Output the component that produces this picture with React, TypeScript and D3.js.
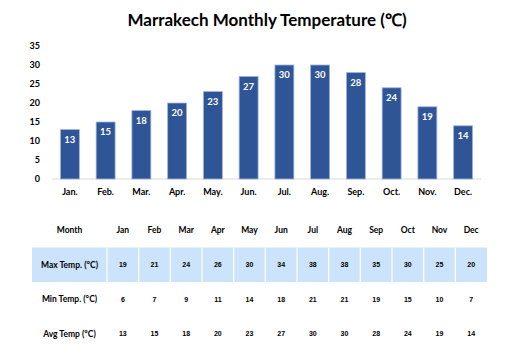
import React from 'react'
import * as d3 from 'd3'

const months = ['Jan.', 'Feb.', 'Mar.', 'Apr.', 'May.', 'Jun.', 'Jul.', 'Aug.', 'Sep.', 'Oct.', 'Nov.', 'Dec.']
const avgTemp = [13, 15, 18, 20, 23, 27, 30, 30, 28, 24, 19, 14]
const yTicks = [0, 5, 10, 15, 20, 25, 30, 35]

const tableMonths = ['Jan', 'Feb', 'Mar', 'Apr', 'May', 'Jun', 'Jul', 'Aug', 'Sep', 'Oct', 'Nov', 'Dec']
const maxTemp = [19, 21, 24, 26, 30, 34, 38, 38, 35, 30, 25, 20]
const minTemp = [6, 7, 9, 11, 14, 18, 21, 21, 19, 15, 10, 7]
const rowLabels = ['Max Temp. (°C)', 'Min Temp. (°C)', 'Avg Temp (°C)']

const W = 514
const H = 360
const chartFont = 'Lato, "Open Sans", sans-serif'
const tableFont = '"Liberation Sans", Arial, sans-serif'

const App = (): JSX.Element => {
  const x = d3.scaleBand<string>().domain(months).range([52, 481]).paddingInner(0.47).paddingOuter(0.235)
  const y = d3.scaleLinear().domain([0, 35]).range([179, 46])

  // table layout
  const tx = d3.scaleBand<string>().domain(tableMonths).range([107, 487])
  const rows = [maxTemp, minTemp, avgTemp]
  const rowY = d3.scaleBand<number>().domain([0, 1, 2, 3]).range([213, 351])
  const mid = (r: number) => (rowY(r) || 0) + rowY.bandwidth() / 2

  return (
    <svg width={W} height={H} style={{ position: 'absolute', left: 0, top: 0, background: '#fff' }}>
      <text x={267} y={26} textAnchor='middle' fontFamily={chartFont} fontWeight='bold' fontSize={17} fill='#000'>
        Marrakech Monthly Temperature (℃)
      </text>

      {yTicks.map(t => (
        <text key={t} x={40} y={y(t)} dy='0.35em' textAnchor='end' fontFamily={chartFont} fontWeight='bold' fontSize={9} fill='#000'>
          {t}
        </text>
      ))}

      <line x1={52} x2={481} y1={y(0)} y2={y(0)} stroke='#D9D9D9' strokeWidth={1} />

      {months.map((m, i) => (
        <g key={m}>
          <rect
            x={x(m)}
            y={y(avgTemp[i])}
            width={x.bandwidth()}
            height={y(0) - y(avgTemp[i])}
            fill='#2F5597'
            stroke='#9DB4DE'
            strokeWidth={0.8}
          />
          <text
            x={(x(m) || 0) + x.bandwidth() / 2}
            y={y(avgTemp[i]) + 10}
            dy='0.35em'
            textAnchor='middle'
            fontFamily={chartFont}
            fontWeight='bold'
            fontSize={9.5}
            fill='#fff'
          >
            {avgTemp[i]}
          </text>
          <text
            x={(x(m) || 0) + x.bandwidth() / 2}
            y={192}
            dy='0.35em'
            textAnchor='middle'
            fontFamily={chartFont}
            fontWeight='bold'
            fontSize={9}
            fill='#000'
          >
            {m}
          </text>
        </g>
      ))}

      {/* data table */}
      <rect x={32} y={rowY(1)} width={487 - 32} height={rowY.bandwidth()} fill='#CCE4FB' />
      {[107, ...tableMonths.slice(1).map(m => tx(m) || 0)].map((xx, i) => (
        <line key={i} x1={xx} x2={xx} y1={rowY(1)} y2={(rowY(1) || 0) + rowY.bandwidth()} stroke='#fff' strokeWidth={1.2} />
      ))}

      <text x={69.5} y={mid(0)} dy='0.35em' textAnchor='middle' fontFamily={chartFont} fontWeight='bold' fontSize={8.5} fill='#000'>
        Month
      </text>
      {tableMonths.map(m => (
        <text key={m} x={(tx(m) || 0) + tx.bandwidth() / 2} y={mid(0)} dy='0.35em' textAnchor='middle' fontFamily={chartFont} fontWeight='bold' fontSize={8.5} fill='#000'>
          {m}
        </text>
      ))}

      {rows.map((vals, r) => (
        <g key={r}>
          <text x={69.5} y={mid(r + 1)} dy='0.35em' textAnchor='middle' fontFamily={chartFont} fontWeight='bold' fontSize={8.5} fill='#000'>
            {rowLabels[r]}
          </text>
          {vals.map((v, i) => (
            <text
              key={i}
              x={(tx(tableMonths[i]) || 0) + tx.bandwidth() / 2}
              y={mid(r + 1)}
              dy='0.35em'
              textAnchor='middle'
              fontFamily={tableFont}
              fontWeight='bold'
              fontSize={7}
              fill='#000'
            >
              {v}
            </text>
          ))}
        </g>
      ))}
    </svg>
  )
}

export default App
